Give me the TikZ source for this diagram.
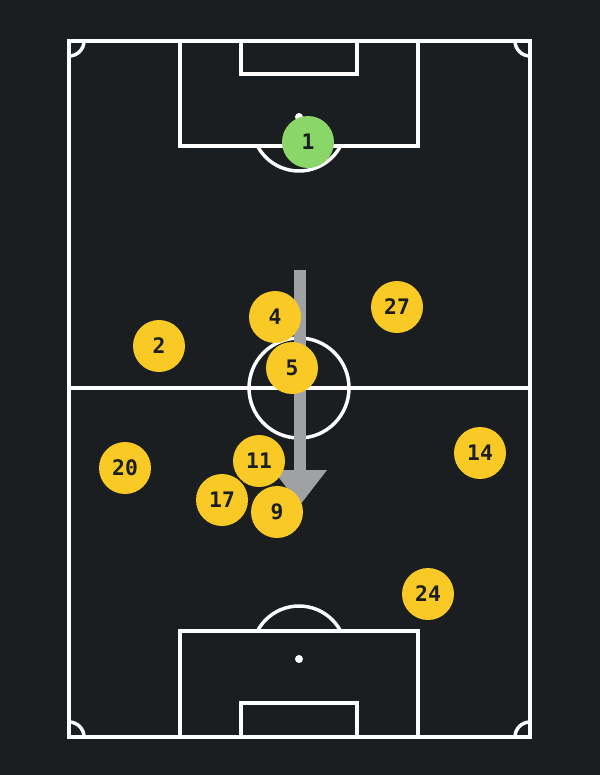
\documentclass[tikz,border=0pt]{standalone}
\usepackage{fontspec}
\newfontfamily\kitfont{DejaVu Sans Mono}
\definecolor{bgdark}{HTML}{1A1E21}
\definecolor{kityellow}{HTML}{F9C926}
\definecolor{keepergreen}{HTML}{8AD668}
\definecolor{arrowgray}{HTML}{A0A1A2}
\tikzset{
    line/.style={draw=white, line width=2.6pt},
    player/.style={circle, fill=kityellow, minimum size=39pt, inner sep=0pt,
        font=\kitfont\bfseries\fontsize{16}{16}\selectfont, text=bgdark},
    keeper/.style={player, fill=keepergreen}
}
\begin{document}
\begin{tikzpicture}[x=0.75pt, y=-0.75pt]
    \def\rcorner{11.25pt}
    \def\rarc{35.25pt}

    \fill[bgdark] (0,0) rectangle (600,775);
    \useasboundingbox (0,0) rectangle (600,775);

    % pitch
    \draw[line] (69,41) rectangle (530,737);
    \draw[line] (69,388) -- (530,388);
    \draw[line] (299,388) circle[radius=37.5pt];
    \draw[line] (180,41) rectangle (418,146);
    \draw[line] (241,41) rectangle (357,74);
    \draw[line] (180,737) rectangle (418,631);
    \draw[line] (241,737) rectangle (357,703);
    \fill[white] (299,117) circle[radius=3pt];
    \fill[white] (299,659) circle[radius=3pt];

    \begin{scope}
        \clip (69,41) rectangle (530,737);
        \foreach \cx/\cy in {69/41, 530/41, 69/737, 530/737}
            \draw[line] (\cx,\cy) circle[radius=\rcorner];
    \end{scope}
    \begin{scope}
        \clip (180,146) rectangle (418,200);
        \draw[line] (299,124) circle[radius=\rarc];
    \end{scope}
    \begin{scope}
        \clip (180,580) rectangle (418,631);
        \draw[line] (299,653) circle[radius=\rarc];
    \end{scope}

    % run of play
    \coordinate (runstart) at (300,270);
    \coordinate (runend) at (300,505);
    \fill[arrowgray] ([xshift=-4.5pt]runstart) rectangle ([xshift=4.5pt]300,471);
    \fill[arrowgray] (273,470) -- (327,470) -- (runend) -- cycle;

    % players
    \node[keeper] (p1) at (308,142) {1};
    \foreach \n/\x/\y in {4/275/317, 27/397/307, 2/159/346, 5/292/368,
                          20/125/468, 11/259/461, 14/480/453,
                          17/222/500, 9/277/512, 24/428/594}
        \node[player] (p\n) at (\x,\y) {\n};
\end{tikzpicture}
\end{document}
